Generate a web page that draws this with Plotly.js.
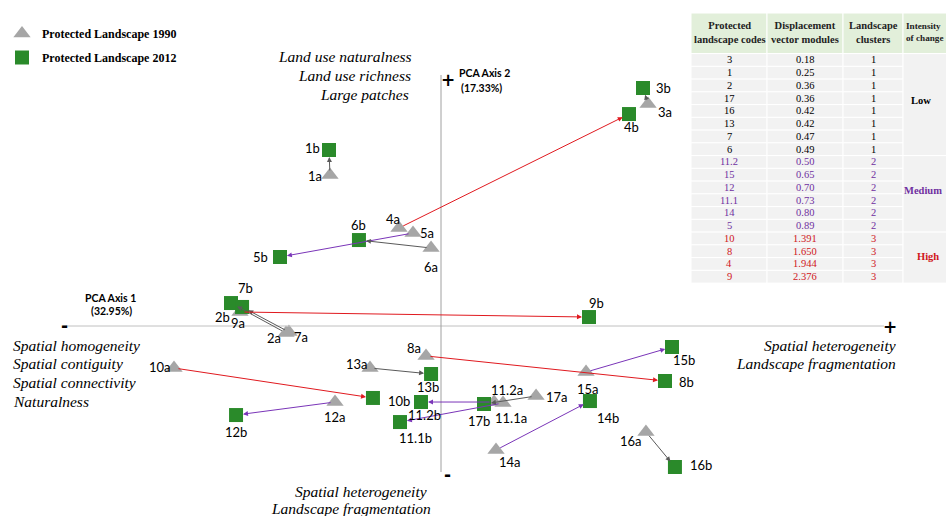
<!DOCTYPE html>
<html>
<head>
<meta charset="utf-8">
<script src="https://cdn.plot.ly/plotly-3.0.1.min.js"></script>
<style>html,body{margin:0;padding:0;background:#fff;}#chart{width:946px;height:516px;}</style>
</head>
<body>
<div id="chart"></div>
<script>
// ---- Data (PCA scores) ----
const codes    = ['1','2','3','4','5','6','7','8','9','10','11.1','11.2','12','13','14','15','16','17'];
const x1990    = [-0.793,-1.107, 1.479,-0.300,-0.200,-0.071,-1.086,-0.107,-1.436,-1.907, 0.443, 0.379,-0.757,-0.507, 0.393, 1.036, 1.464, 0.679];
const y1990    = [ 1.079,-0.050, 1.586, 0.700, 0.664, 0.557,-0.043,-0.214, 0.100,-0.300,-0.550,-0.543,-0.543,-0.300,-0.886,-0.329,-0.757,-0.500];
const x2012    = [-0.800,-1.500, 1.443, 1.343,-1.150,-0.586,-1.421, 1.600, 1.057,-0.486,-0.293,-0.143,-1.464,-0.071, 1.064, 1.650, 1.671, 0.307];
const y2012    = [ 1.257, 0.164, 1.700, 1.514, 0.493, 0.614, 0.136,-0.393, 0.064,-0.514,-0.686,-0.543,-0.636,-0.343,-0.536,-0.150,-1.007,-0.557];
const clusters = [1,1,1,3,2,1,1,3,3,3,2,2,2,1,2,2,1,1];

// table
const tableCodes    = ['3','1','2','17','16','13','7','6','11.2','15','12','11.1','14','5','10','8','4','9'];
const tableModules  = ['0.18','0.25','0.36','0.36','0.42','0.42','0.47','0.49','0.50','0.65','0.70','0.73','0.80','0.89','1.391','1.650','1.944','2.376'];
const tableClusters = ['1','1','1','1','1','1','1','1','2','2','2','2','2','2','3','3','3','3'];
const intensityLabels = ['Low','Medium','High'];
const tableHeader = ['Protected<br>landscape codes','Displacement<br>vector modules','Landscape<br>clusters','Intensity<br>of change'];

// ---- Styles ----
const clusterColor = {1:'#5a5a5a', 2:'#7a35b8', 3:'#e0191f'};
const textColor = {1:'#000000', 2:'#7030a0', 3:'#d0161b'};
// label offsets in pixels [dx, dy] (dy downward)
const offA = {'1':[-15,1],'2':[-12,5],'3':[17,8],'4':[-6,-9],'5':[14,0],'6':[0,19],'7':[12,5],'8':[-12,-8],'9':[-2,11],
              '10':[-14,-1],'11.1':[8,15],'11.2':[13,-12],'12':[0,15],'13':[-13,-4],'14':[14,12],'15':[2,17],'16':[-15,9],'17':[21,1]};
const offB = {'1':[-17,-2],'2':[-9,14],'3':[20,0],'4':[2,13],'5':[-20,0],'6':[0,-15],'7':[3,-19],'8':[21,1],'9':[8,-14],
              '10':[26,3],'11.1':[16,16],'11.2':[4,13],'12':[0,17],'13':[-3,13],'14':[18,17],'15':[12,13],'16':[26,-2],'17':[-5,17]};

const W = 946, H = 516;
const px = v => v / W, py = v => 1 - v / H;
const labelFont = {family:'Lato, "Open Sans", sans-serif', size:13, color:'#000'};

const traces = [
  {type:'scatter', mode:'markers', name:'<b>Protected Landscape 1990</b>', x:x1990, y:y1990, legendgroup:'a',
   marker:{symbol:'triangle-up', size:15, color:'#a6a6a6'}, hoverinfo:'skip'},
  {type:'scatter', mode:'markers', name:'<b>Protected Landscape 2012</b>', x:x2012, y:y2012, legendgroup:'b',
   marker:{symbol:'square', size:14, color:'#2a8a2a'}, hoverinfo:'skip'}
];

const annotations = [];
const shapes = [
  {type:'line', xref:'x', yref:'y', x0:-2.679, x1:3.164, y0:0, y1:0, line:{color:'#c0c0c0', width:1}},
  {type:'line', xref:'x', yref:'y', x0:0, x1:0, y0:-1.043, y1:1.793, line:{color:'#a0a0a0', width:1}}
];

// displacement arrows
codes.forEach((c, i) => {
  annotations.push({x:x2012[i], y:y2012[i], ax:x1990[i], ay:y1990[i], xref:'x', yref:'y', axref:'x', ayref:'y',
    text:'', showarrow:true, arrowhead:2, arrowsize:1, arrowwidth:1, standoff:7, startstandoff:3,
    arrowcolor:clusterColor[clusters[i]]});
});
// point labels
codes.forEach((c, i) => {
  annotations.push({x:x1990[i], y:y1990[i], xref:'x', yref:'y', text:c + 'a', showarrow:false,
    xshift:offA[c][0], yshift:-offA[c][1], font:labelFont});
  annotations.push({x:x2012[i], y:y2012[i], xref:'x', yref:'y', text:c + 'b', showarrow:false,
    xshift:offB[c][0], yshift:-offB[c][1], font:labelFont});
});

function txt(t, x, y, anchor, font, align) {
  annotations.push({text:t, x:px(x), y:py(y), xref:'paper', yref:'paper', xanchor:anchor, yanchor:'middle',
    showarrow:false, font:font, align:align || 'center'});
}
function rect(x0, x1, y0, y1, fill) {
  shapes.push({type:'rect', xref:'paper', yref:'paper', x0:px(x0), x1:px(x1), y0:py(y1), y1:py(y0),
    fillcolor:fill, line:{color:'#ffffff', width:1}, layer:'below'});
}

// ---- table drawn with shapes + text ----
const colX = [691, 767, 843, 903, 947];
const headTop = 13, headBot = 53.6, rowH = 12.75;
const tFont = {family:'Liberation Serif, serif', size:10.5, color:'#222'};
for (let j = 0; j < 4; j++) rect(colX[j], colX[j+1], headTop, headBot, '#e2efda');
for (let j = 0; j < 3; j++) {
  txt('<b>' + tableHeader[j] + '</b>', (colX[j] + colX[j+1]) / 2, 32, 'center', tFont);
}
txt('<b>' + tableHeader[3] + '</b>', 904, 32, 'left', {family:'Liberation Serif, serif', size:9.2, color:'#222'}, 'left');
const cols = [tableCodes, tableModules, tableClusters];
for (let i = 0; i < tableCodes.length; i++) {
  const y0 = headBot + i * rowH, y1 = y0 + rowH;
  const cf = {family:'Liberation Serif, serif', size:10.5, color:textColor[tableClusters[i]]};
  for (let j = 0; j < 3; j++) {
    rect(colX[j], colX[j+1], y0, y1, '#f2f2f2');
    txt(cols[j][i], (colX[j] + colX[j+1]) / 2, (y0 + y1) / 2, 'center', cf);
  }
}
// merged intensity blocks
const blocks = [[0, 8], [8, 14], [14, 18]];
const blockText = [[921, 100, 'center'], [944, 190, 'right'], [928, 256, 'center']];
blocks.forEach((b, k) => {
  rect(colX[3], colX[4], headBot + b[0] * rowH, headBot + b[1] * rowH, '#f2f2f2');
  txt('<b>' + intensityLabels[k] + '</b>', blockText[k][0], blockText[k][1], blockText[k][2],
      {family:'Liberation Serif, serif', size:10.5, color:textColor[k + 1]});
});

const ital = {family:'Liberation Serif, serif', size:15.5, color:'#000', style:'italic'};
txt('Land use naturalness', 414, 57, 'right', ital);
txt('Land use richness', 413, 75, 'right', ital);
txt('Large patches', 411, 94, 'right', ital);
txt('Spatial homogeneity', 11, 345, 'left', ital);
txt('Spatial contiguity', 11, 363, 'left', ital);
txt('Spatial connectivity', 11, 382, 'left', ital);
txt('Naturalness', 11, 401, 'left', ital);
txt('Spatial heterogeneity', 898, 345, 'right', ital);
txt('Landscape fragmentation', 898, 363, 'right', ital);
txt('Spatial heterogeneity', 429, 491, 'right', ital);
txt('Landscape fragmentation', 433, 508, 'right', ital);

const boldSmall = {family:'Lato, "Open Sans", sans-serif', size:10.5, color:'#000'};
txt('<b>PCA Axis 1</b>', 110, 298, 'center', boldSmall);
txt('<b>(32.95%)</b>', 111, 311, 'center', boldSmall);
txt('<b>PCA Axis 2</b>', 457, 73, 'left', boldSmall);
txt('<b>(17.33%)</b>', 459, 88, 'left', boldSmall);
const sign = {family:'DejaVu Sans, sans-serif', size:17, color:'#000'};
txt('<b>-</b>', 64, 326, 'center', sign);
txt('<b>+</b>', 890, 327, 'center', sign);
txt('<b>+</b>', 448, 80, 'center', sign);
txt('<b>-</b>', 447, 475, 'center', sign);

const layout = {
  width:W, height:H,
  margin:{l:0, r:0, t:0, b:0},
  paper_bgcolor:'#fff', plot_bgcolor:'rgba(0,0,0,0)',
  xaxis:{range:[-441/140, 505/140], visible:false, fixedrange:true},
  yaxis:{range:[-190/140, 326/140], visible:false, fixedrange:true},
  showlegend:true,
  legend:{x:2/W, y:1 - 19/H, xanchor:'left', yanchor:'top', bgcolor:'rgba(0,0,0,0)', traceorder:'grouped',
          font:{family:'Liberation Serif, serif', size:12, color:'#000'}, tracegroupgap:5},
  shapes:shapes,
  annotations:annotations
};
Plotly.newPlot('chart', traces, layout, {displayModeBar:false, staticPlot:true});
</script>
</body>
</html>
